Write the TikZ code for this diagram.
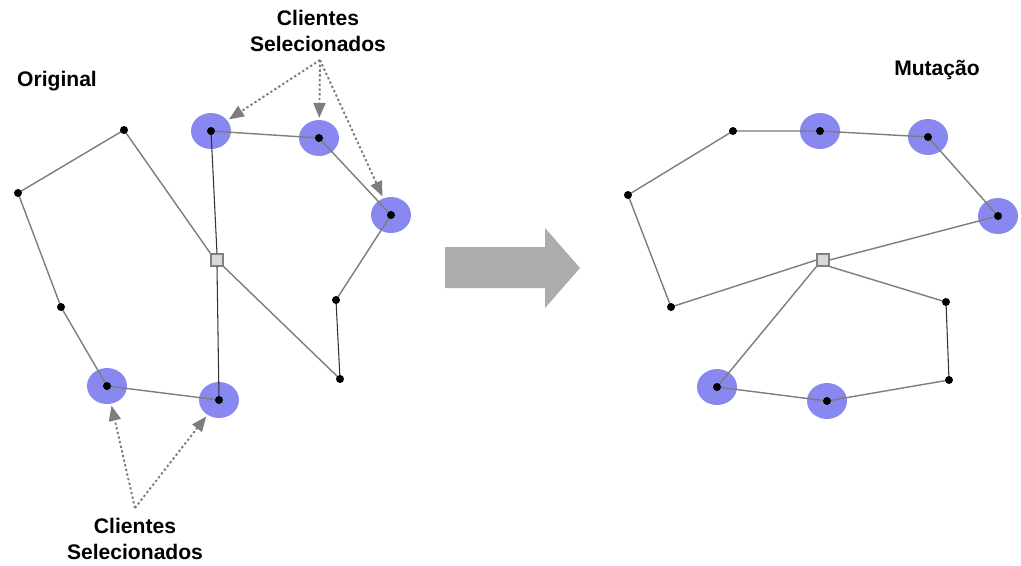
\documentclass[tikz,border=0pt]{standalone}
\usepackage{fontspec}
\setmainfont{Liberation Sans}
\usetikzlibrary{arrows.meta,shapes.geometric}
\definecolor{halo}{RGB}{136,136,240}
\definecolor{edge}{RGB}{125,125,125}
\definecolor{edgedark}{RGB}{50,50,50}
\definecolor{pointer}{RGB}{125,125,125}
\definecolor{bigarrow}{RGB}{172,172,172}
\begin{document}
\begin{tikzpicture}[x=0.02cm,y=-0.02cm,
  cust/.style={circle,fill=black,inner sep=0pt,minimum size=0.16cm},
  halo/.style={ellipse,fill=halo,inner sep=0pt,minimum width=0.8cm,minimum height=0.72cm},
  depot/.style={rectangle,draw=gray,fill=gray!30,line width=0.6pt,inner sep=0pt,minimum size=0.24cm},
  route/.style={draw=edge,line width=0.8pt},
  routedark/.style={draw=edgedark,line width=0.6pt},
  pointer/.style={draw=pointer,line width=1.1pt,dash pattern=on 1.3pt off 1.4pt,shorten >=1pt,
    -{Triangle[length=0.3cm,width=0.24cm,fill=pointer]}},
  label/.style={font=\bfseries\fontsize{12}{15}\selectfont,align=center}]
\useasboundingbox (0,0) rectangle (1021,565);

% ---------- left: original routes ----------
\node[halo] (hs1) at (211,131) {};
\node[halo] (hs2) at (319,138) {};
\node[halo] (hs3) at (391,215) {};
\node[halo] (hs4) at (107,386) {};
\node[halo] (hs5) at (219,400) {};

\node[depot] (ld) at (217,260) {};
\coordinate (lA) at (18,193);
\coordinate (lB) at (124,130);
\coordinate (lF) at (61,307);
\coordinate (lD) at (336,300);
\coordinate (lE) at (340,379);

\draw[route] (ld.north west) -- (lB) -- (lA) -- (lF) -- (hs4.center) -- (hs5.center);
\draw[routedark] (hs5.center) -- (ld.south);
\draw[routedark] (ld.north) -- (hs1.center);
\draw[route] (hs1.center) -- (hs2.center) -- (hs3.center) -- (lD);
\draw[routedark] (lD) -- (lE);
\draw[route] (lE) -- (ld.south east);

\foreach \p in {lA,lB,lF,lD,lE,hs1,hs2,hs3,hs4,hs5}
  \node[cust] (dot-\p) at (\p) {};

% labels and pointers
\node[label] (orig) at (57,81) {Original};
\node[label] (seltop) at (318,31) {Clientes\\Selecionados};
\node[label] (selbot) at (135,539) {Clientes\\Selecionados};
\coordinate (ptop) at (320,60);
\coordinate (pbot) at (135,508);
\draw[pointer] (ptop) -- (hs1);
\draw[pointer] (ptop) -- (hs2);
\draw[pointer] (ptop) -- (hs3);
\draw[pointer] (pbot) -- (hs4);
\draw[pointer] (pbot) -- (hs5);

% ---------- transition arrow ----------
\fill[bigarrow] (445,247) -- (545,247) -- (545,228) -- (580,268)
  -- (545,308) -- (545,288) -- (445,288) -- cycle;

% ---------- right: mutated routes ----------
\node[halo] (hr1) at (820,131) {};
\node[halo] (hr2) at (928,137) {};
\node[halo] (hr3) at (998,216) {};
\node[halo] (hr4) at (717,387) {};
\node[halo] (hr5) at (827,401) {};

\node[depot] (rd) at (823,260) {};
\coordinate (ra) at (628,195);
\coordinate (rb) at (733,131);
\coordinate (rc) at (671,307);
\coordinate (rdd) at (946,302);
\coordinate (re) at (949,380);

\draw[route] (rd.east) -- (hr3.center) -- (hr2.center) -- (hr1.center) -- (rb)
  -- (ra) -- (rc) -- (rd.west);
\draw[route] (rd.south west) -- (hr4.center) -- (hr5.center) -- (re);
\draw[routedark] (re) -- (rdd);
\draw[route] (rdd) -- (rd.south east);

\foreach \p in {ra,rb,rc,rdd,re,hr1,hr2,hr3,hr4,hr5}
  \node[cust] (dot-\p) at (\p) {};

\node[label] (mut) at (937,70) {Mutação};
\end{tikzpicture}
\end{document}
